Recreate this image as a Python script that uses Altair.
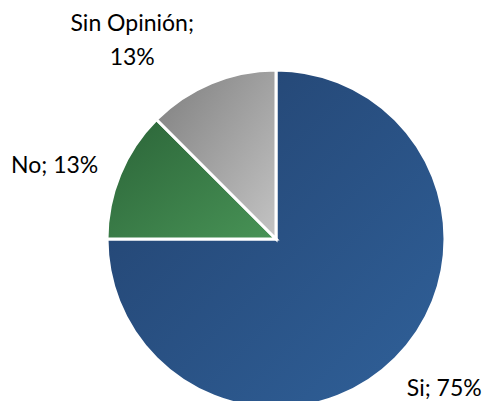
import altair as alt
import pandas as pd

categories = ["Si", "No", "Sin Opinión"]
values = [75, 12.5, 12.5]
order = [1, 2, 3]
grad_dark = ["#22416D", "#2B6438", "#7E7E7E"]
grad_light = ["#30619A", "#489356", "#C4C4C4"]

df = pd.DataFrame({"cat": categories, "value": values, "ord": order})


def grad(i):
    return alt.Gradient(
        gradient="linear",
        x1=0, y1=0, x2=1, y2=1,
        stops=[alt.GradientStop(color=grad_dark[i], offset=0),
               alt.GradientStop(color=grad_light[i], offset=1)],
    )


CX, CY, R = 268, 231, 169
theta_scale = alt.Scale(domain=[0, sum(values)], range=[0, 6.283185307179586])

base = alt.Chart(df).transform_stack(
    stack="value", groupby=[], as_=["t0", "t1"], sort=[alt.SortField("ord", order="ascending")]
).transform_calculate(
    tm="(datum.t0 + datum.t1) / 2",
    pct="format(datum.value / 100, '.0%')",
)

layers = []
for i, c in enumerate(categories):
    layers.append(
        base.transform_filter(alt.datum.cat == c).mark_arc(
            outerRadius=R, stroke="white", strokeWidth=3, fill=grad(i)
        ).encode(
            theta=alt.Theta("t0:Q", scale=theta_scale),
            theta2="t1:Q",
            x=alt.value(CX), y=alt.value(CY),
        )
    )

label_cfg = {
    "Si": dict(radius=228, dx=7, dy=-11, text_expr="datum.cat + '; ' + datum.pct"),
    "No": dict(radius=232, dx=-7, dy=16, text_expr="datum.cat + '; ' + datum.pct"),
    "Sin Opinión": dict(radius=232, dx=-55, dy=-1, text_expr="[datum.cat + ';', datum.pct]"),
}

for c in categories:
    cfg = label_cfg[c]
    layers.append(
        base.transform_filter(alt.datum.cat == c)
        .transform_calculate(lbl=cfg["text_expr"])
        .mark_text(
            radius=cfg["radius"], dx=cfg["dx"], dy=cfg["dy"], font="Lato", fontSize=23,
            color="#000000", align="center", baseline="middle", lineHeight=34,
        )
        .encode(
            theta=alt.Theta("tm:Q", scale=theta_scale),
            text="lbl:N",
            x=alt.value(CX), y=alt.value(CY),
        )
    )

chart = alt.layer(*layers).properties(
    width=478, height=393, autosize=alt.AutoSizeParams(type="none"), padding=0
).configure_view(stroke=None)

chart.save("out.html", embed_options={"renderer": "svg", "actions": False})
